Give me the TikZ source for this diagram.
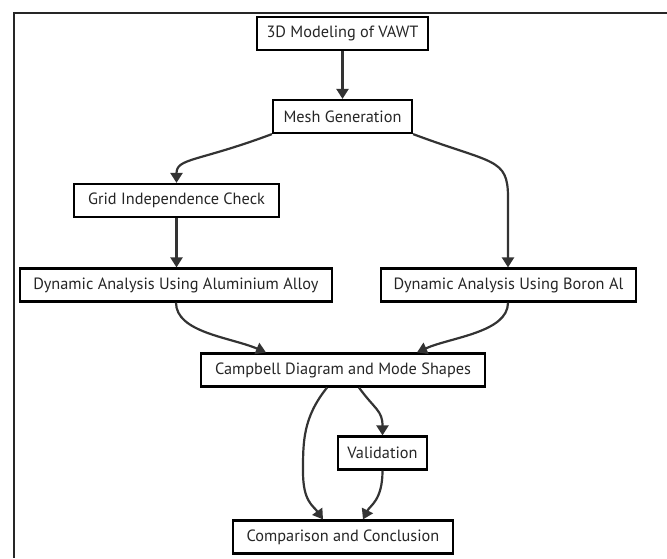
\documentclass[tikz,border=0pt]{standalone}
\usepackage{fontspec}
\setmainfont{PT Sans}
\usetikzlibrary{arrows.meta,calc}
\begin{document}
\begin{tikzpicture}[x=1pt,y=-1pt,
  box/.style={draw=black,line width=2.2pt,fill=white,minimum height=33pt,inner sep=0pt,text=black!85,font=\fontsize{16.3}{19}\selectfont},
  edge/.style={draw=black!80,line width=2.2pt,-{Triangle[length=10pt,width=12pt]}}]
\useasboundingbox (0,0) rectangle (667,558);
\draw[line width=2.4pt,black!85] (667,13) -- (14,13) -- (14,558);
\node[box,minimum width=171pt] (model) at (342.5,33.5) {3D Modeling of VAWT};
\node[box,minimum width=139pt] (mesh) at (342.5,116.5) {Mesh Generation};
\node[box,minimum width=205pt] (grid) at (176.5,200.5) {Grid Independence Check};
\node[box,minimum width=312pt] (alum) at (176,285) {Dynamic Analysis Using Aluminium Alloy};
\node[box,minimum width=255pt] (boron) at (508.5,285) {Dynamic Analysis Using Boron Al};
\node[box,minimum width=284pt] (camp) at (343,370) {Campbell Diagram and Mode Shapes};
\node[box,minimum width=89pt] (valid) at (382.5,453) {Validation};
\node[box,minimum width=220pt] (comp) at (343,537) {Comparison and Conclusion};
\draw[edge] (model) -- (mesh);
\draw[edge] (mesh.south west) .. controls +(-75,28) and +(0,-25) .. (grid.north);
\draw[edge] (mesh.south east) .. controls +(80,30) and +(0,-40) .. ($(boron.north)+(-0.5,-70)$) -- ($(boron.north)+(-0.5,0)$);
\draw[edge] (grid) -- (grid|-alum.north);
\draw[edge] (alum.south) .. controls +(0,30) and +(-35,-15) .. ($(camp.north)+(-77,0)$);
\draw[edge] ($(boron.south)+(-0.5,0)$) .. controls +(0,30) and +(33,-15) .. ($(camp.north)+(74,0)$);
\draw[edge] ($(camp.south)+(16,0)$) .. controls +(16,22) and +(0,-25) .. (valid.north);
\draw[edge] ($(camp.south)+(-16,0)$) .. controls +(-24,30) and +(0,-30) .. ($(camp.south)+(-40,84)$) .. controls +(0,30) and +(-10,-14) .. ($(comp.north)+(-20,0)$);
\draw[edge] (valid.south) .. controls +(0,30) and +(7,-14) .. ($(comp.north)+(20,0)$);
\end{tikzpicture}
\end{document}
